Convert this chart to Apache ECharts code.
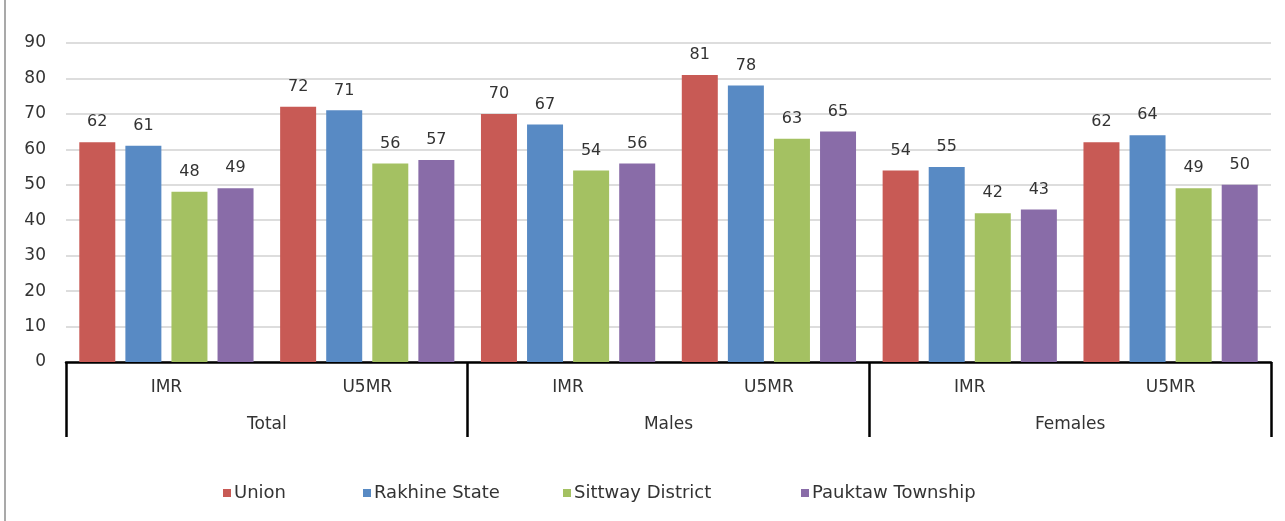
<!DOCTYPE html>
<html>
<head>
<meta charset="utf-8">
<script src="https://cdn.jsdelivr.net/npm/echarts@6/dist/echarts.min.js"></script>
<style>
  html, body { margin: 0; padding: 0; background: #fff; }
  #chart { width: 1285px; height: 521px; }
</style>
</head>
<body>
<div id="chart"></div>
<script>
// Indicator (inner axis) and sex group (outer axis) categories
const indicators = ['IMR', 'U5MR', 'IMR', 'U5MR', 'IMR', 'U5MR'];
const groups = ['Total', 'Males', 'Females'];

// Rates per 1,000 live births, in indicator order above
const union    = [62, 72, 70, 81, 54, 62];
const rakhine  = [61, 71, 67, 78, 55, 64];
const sittway  = [48, 56, 54, 63, 42, 49];
const pauktaw  = [49, 57, 56, 65, 43, 50];

const seriesNames = ['Union', 'Rakhine State', 'Sittway District', 'Pauktaw Township'];
const seriesValues = [union, rakhine, sittway, pauktaw];
const colors = ['#C85A55', '#588AC4', '#A4C162', '#896CA8'];

const yTicks = { min: 0, max: 90, interval: 10 };

const FONT = 'DejaVu Sans';
const TEXT = '#333333';

const chart = echarts.init(document.getElementById('chart'), null, { renderer: 'canvas' });

// One legend per series so each entry sits in its own column
const legendLefts = [223, 363, 563, 801];
const legends = seriesNames.map((name, i) => ({
  data: [name],
  left: legendLefts[i],
  top: 484,
  itemWidth: 8,
  itemHeight: 8,
  icon: 'rect',
  padding: 0,
  textStyle: { fontFamily: FONT, fontSize: 18, color: TEXT, padding: [0, 0, 0, -2] }
}));

const option = {
  backgroundColor: '#fff',
  animation: false,
  color: colors,
  legend: legends,
  grid: { left: 66, right: 14, top: 43, bottom: 159, containLabel: false, outerBoundsMode: 'none' },
  xAxis: [
    {
      type: 'category',
      data: indicators,
      position: 'bottom',
      axisLine: { show: false },
      axisTick: { show: false },
      axisLabel: { fontFamily: FONT, fontSize: 17, color: TEXT, margin: 17, interval: 0 }
    },
    {
      type: 'category',
      data: groups,
      position: 'bottom',
      axisLine: { show: true, lineStyle: { color: '#000', width: 2.5 } },
      axisTick: { show: true, length: 75, lineStyle: { color: '#000', width: 2.5 } },
      axisLabel: { fontFamily: FONT, fontSize: 17, color: TEXT, margin: 54, interval: 0 },
      splitLine: { show: false }
    }
  ],
  yAxis: {
    type: 'value',
    min: yTicks.min,
    max: yTicks.max,
    interval: yTicks.interval,
    axisLine: { show: false },
    axisTick: { show: false },
    axisLabel: { fontFamily: FONT, fontSize: 17, color: TEXT, margin: 20 },
    splitLine: { lineStyle: { color: '#D2D2D2', width: 1.5 } }
  },
  series: seriesNames.map((name, i) => ({
    name: name,
    type: 'bar',
    xAxisIndex: 0,
    data: seriesValues[i],
    barWidth: 36,
    barGap: '28%',
    itemStyle: { color: colors[i] },
    label: {
      show: true,
      position: 'top',
      distance: 12,
      fontFamily: FONT,
      fontSize: 16,
      color: TEXT
    }
  })),
  graphic: [
    {
      type: 'line',
      shape: { x1: 5, y1: 0, x2: 5, y2: 521 },
      style: { stroke: '#8C8C8C', lineWidth: 1.5 },
      z: 10
    }
  ]
};

chart.setOption(option);
</script>
</body>
</html>
